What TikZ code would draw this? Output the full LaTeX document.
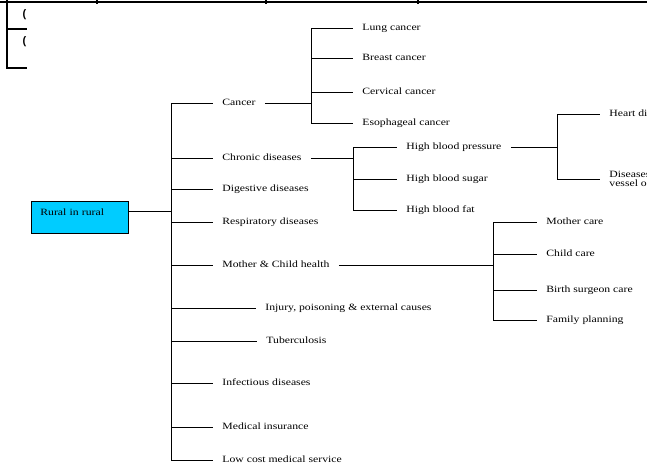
\documentclass[tikz,border=0pt]{standalone}
\usepackage{fontspec}
\newfontfamily\treefont{Liberation Serif}[FakeStretch=1.22]
\newfontfamily\cellfont{Liberation Sans}
\definecolor{rootfill}{RGB}{0,204,255}
\tikzset{label text/.style={font=\treefont\fontsize{9.6}{8.6}\selectfont,anchor=west,inner xsep=9pt,inner ysep=0pt},
leaf/.style={label text,text height=6.5pt,text depth=2pt},
root/.style={draw,fill=rootfill,font=\treefont\fontsize{9.6}{8.6}\selectfont,anchor=north west,minimum width=97pt,minimum height=32pt,text width=79pt,align=left,inner xsep=9pt,text height=5pt,text depth=9pt},
table rule/.style={line width=2.4pt},
cell/.style={font=\cellfont\bfseries\fontsize{11}{12}\selectfont,inner sep=0pt}}

\begin{document}
\begin{tikzpicture}[x=1pt,y=-1pt,line width=0.8pt]
\clip (0,0) rectangle (647,466);

%% table fragment at the top
\draw [table rule] (0,2) -- (647,2);
\draw [line width=1.6pt] (97,0) -- (97,4);
\draw [line width=1.6pt] (266,0) -- (266,4);
\draw [line width=1.6pt] (418,0) -- (418,4);
\draw [table rule] (7,0) -- (7,68) -- (27,68);
\draw [table rule] (7,29) -- (27,29);
\node [cell] (c1) at (24.5,15) {(};
\node [cell] (c2) at (24.5,42) {(};

%% Coordinates of joints.
\coordinate (j0) at (171,211);
\coordinate (j1) at (311,103);
\coordinate (j2) at (353,158);
\coordinate (j3) at (557,147);
\coordinate (j4) at (493,265);

%% root label
\node [root] (root) at (31,201) {Rural in rural};

%% first level labels
\node [leaf] (cancer) at (213,103) {Cancer};
\node [leaf] (chronic) at (213,158) {Chronic diseases};
\node [leaf] (digestive) at (213,189) {Digestive diseases};
\node [leaf] (respiratory) at (213,222) {Respiratory diseases};
\node [leaf] (mch) at (213,265) {Mother \& Child health};
\node [leaf] (injury) at (256,308) {Injury, poisoning \& external causes};
\node [leaf] (tb) at (257,341) {Tuberculosis};
\node [leaf] (infectious) at (213,383) {Infectious diseases};
\node [leaf] (insurance) at (213,427) {Medical insurance};
\node [leaf] (lowcost) at (213,460) {Low cost medical service};

%% leaf labels
\node [leaf] (lung) at (353,28) {Lung cancer};
\node [leaf] (breast) at (353,58) {Breast cancer};
\node [leaf] (cervical) at (353,92) {Cervical cancer};
\node [leaf] (esophageal) at (353,123) {Esophageal cancer};
\node [leaf] (hbp) at (397,147) {High blood pressure};
\node [leaf] (hbs) at (397,179) {High blood sugar};
\node [leaf] (hbf) at (397,210) {High blood fat};
\node [leaf] (heart) at (600,114) {Heart di};
\node [label text,align=left] (vessel) at (600,179) {Diseases\\vessel o};
\node [leaf] (mother) at (537,222) {Mother care};
\node [leaf] (child) at (537,254) {Child care};
\node [leaf] (birth) at (537,290) {Birth surgeon care};
\node [leaf] (family) at (537,320) {Family planning};

%% horizontal lines
\draw (root.east |- j0) -- (j0);
\draw (j0 |- cancer) -- (cancer);
\draw (j0 |- chronic) -- (chronic);
\draw (j0 |- digestive) -- (digestive);
\draw (j0 |- respiratory) -- (respiratory);
\draw (j0 |- mch) -- (mch);
\draw (j0 |- injury) -- (injury);
\draw (j0 |- tb) -- (tb);
\draw (j0 |- infectious) -- (infectious);
\draw (j0 |- insurance) -- (insurance);
\draw (j0 |- lowcost) -- (lowcost);
\draw (cancer) -- (j1);
\draw (j1 |- lung) -- (lung);
\draw (j1 |- breast) -- (breast);
\draw (j1 |- cervical) -- (cervical);
\draw (j1 |- esophageal) -- (esophageal);
\draw (chronic) -- (j2);
\draw (j2 |- hbp) -- (hbp);
\draw (j2 |- hbs) -- (hbs);
\draw (j2 |- hbf) -- (hbf);
\draw (hbp) -- (j3);
\draw (j3 |- heart) -- (heart);
\draw (j3 |- vessel.west) -- (vessel.west);
\draw (mch) -- (j4);
\draw (j4 |- mother) -- (mother);
\draw (j4 |- child) -- (child);
\draw (j4 |- birth) -- (birth);
\draw (j4 |- family) -- (family);

%% vertical lines
\draw [line cap=rect] (j0 |- cancer) -- (j0 |- lowcost);
\draw [line cap=rect] (j1 |- lung) -- (j1 |- esophageal);
\draw [line cap=rect] (j2 |- hbp) -- (j2 |- hbf);
\draw [line cap=rect] (j3 |- heart) -- (j3 |- vessel.west);
\draw [line cap=rect] (j4 |- mother) -- (j4 |- family);

\end{tikzpicture}
\end{document}
